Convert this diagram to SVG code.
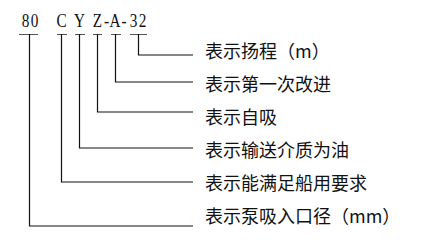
<svg xmlns="http://www.w3.org/2000/svg" width="421" height="242" viewBox="0 0 421 242">
<style>
.code{font-family:"Liberation Serif","Noto Serif",serif;font-size:18px;fill:#111;white-space:pre;text-anchor:middle}
.lbl{font-family:"Noto Sans CJK SC","Noto Sans",sans-serif;font-size:18px;fill:#111}
.ln{fill:none;stroke:#111;stroke-width:1.2}
.bar{fill:none;stroke:#555;stroke-width:1}
</style>
<rect width="421" height="242" fill="#fff"/>
<g id="code" transform="scale(0.85,1)">
<text class="code" x="30 40.6 51.2 61.8 72.4 82.9 93.5 104.1 114.7 125.3 135.3 145.9 157.1 167.6" y="27">80  C Y Z-A-32</text>
</g>
<g id="connectors">
<path class="bar" d="M19 34.5H38M57 34.5H67M75 34.5H85M93 34.5H102M111 34.5H121M130 34.5H147"/>
<path class="ln" d="M138.5 34V55H193"/>
<path class="ln" d="M115.5 34V82H193"/>
<path class="ln" d="M97.5 34V112H193"/>
<path class="ln" d="M79.5 34V148H193"/>
<path class="ln" d="M61.5 34V182H193"/>
<path class="ln" d="M29.5 34V226H193"/>
</g>
<g id="n1"><text class="lbl" x="205" y="58">表示扬程（m）</text></g>
<g id="n2"><text class="lbl" x="205" y="91">表示第一次改进</text></g>
<g id="n3"><text class="lbl" x="205" y="124">表示自吸</text></g>
<g id="n4"><text class="lbl" x="205" y="157">表示输送介质为油</text></g>
<g id="n5"><text class="lbl" x="205" y="190">表示能满足船用要求</text></g>
<g id="n6"><text class="lbl" x="205" y="223">表示泵吸入口径（mm）</text></g>
</svg>
